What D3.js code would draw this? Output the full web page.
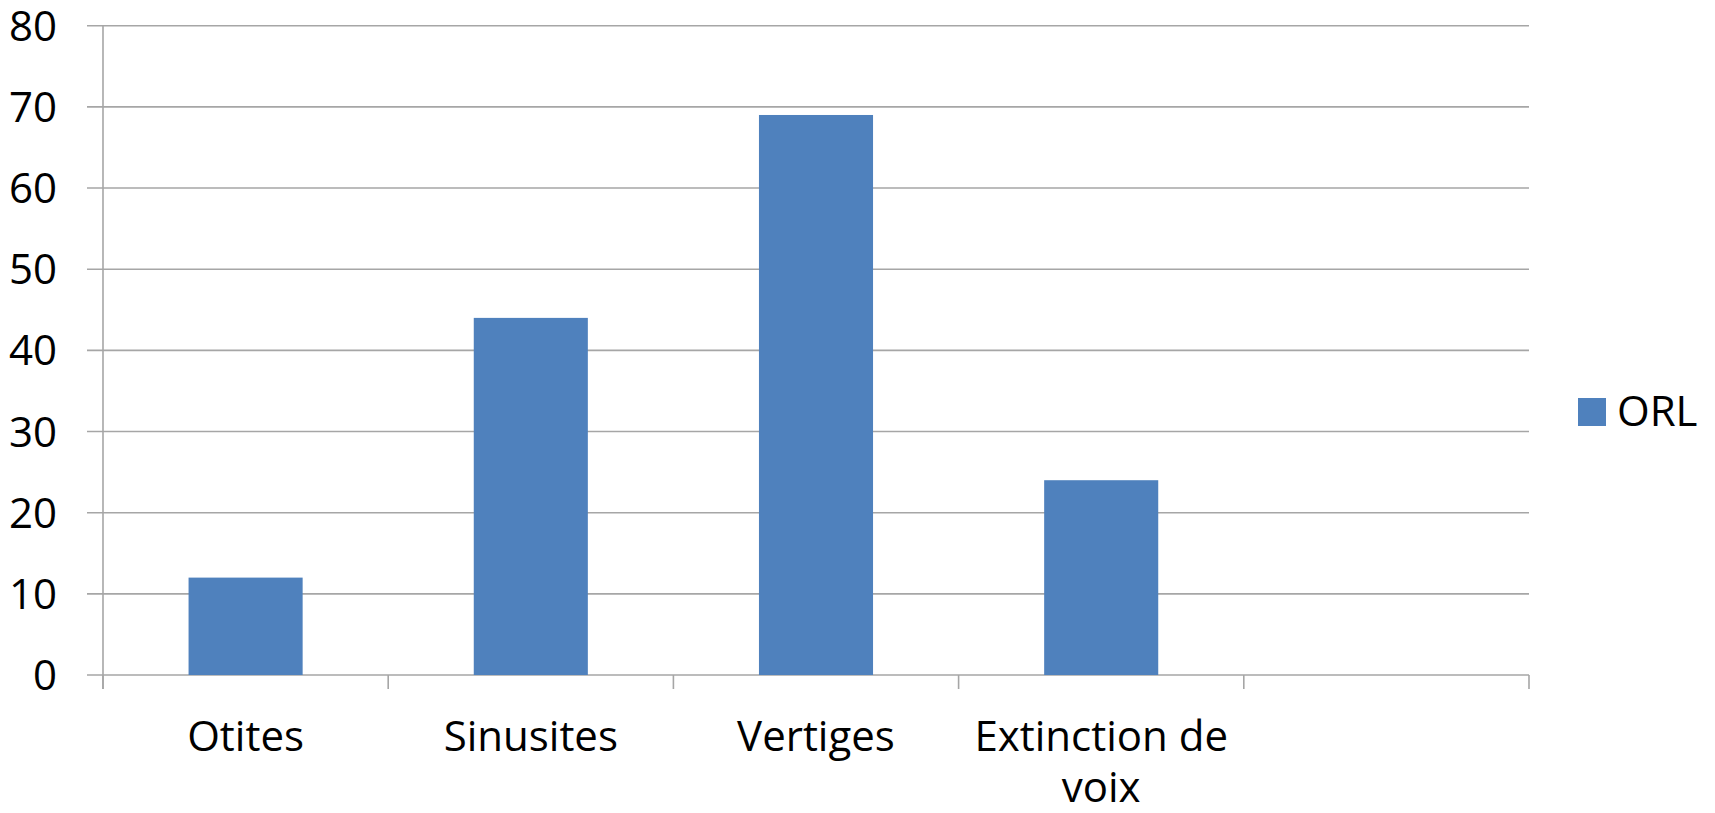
<!DOCTYPE html>
<html>
<head>
<meta charset="utf-8">
<script src="https://cdn.jsdelivr.net/npm/d3@7"></script>
<style>
  html, body { margin: 0; padding: 0; background: #ffffff; }
  svg { display: block; }
  text { font-family: "Open Sans", "Noto Sans", sans-serif; fill: #000; }
</style>
</head>
<body>
<svg id="chart" width="1715" height="813"></svg>
<script>
const categories = ["Otites", "Sinusites", "Vertiges", "Extinction de voix", ""];
const seriesName = "ORL";
const values = [12, 44, 69, 24, null];
const yTicks = [0, 10, 20, 30, 40, 50, 60, 70, 80];

const svg = d3.select("#chart");
const plot = { left: 103, right: 1529, top: 25.7, bottom: 675 };

const x = d3.scaleBand().domain(d3.range(categories.length))
  .range([plot.left, plot.right]).paddingInner(0).paddingOuter(0);
const y = d3.scaleLinear().domain([0, 80]).range([plot.bottom, plot.top]);

const gridColor = "#A6A6A6";
const fs = 42;

// horizontal gridlines
svg.append("g").selectAll("line").data(yTicks).join("line")
  .attr("x1", plot.left - 16).attr("x2", plot.right)
  .attr("y1", d => y(d)).attr("y2", d => y(d))
  .attr("stroke", gridColor).attr("stroke-width", 1.6);

// y axis line
svg.append("line")
  .attr("x1", plot.left).attr("x2", plot.left)
  .attr("y1", plot.top).attr("y2", plot.bottom + 14)
  .attr("stroke", gridColor).attr("stroke-width", 1.6);

// category tick marks
const catTicks = d3.range(categories.length + 1).map(i => i < categories.length ? x(i) : plot.right);
svg.append("g").selectAll("line").data(catTicks).join("line")
  .attr("x1", d => d).attr("x2", d => d)
  .attr("y1", plot.bottom).attr("y2", plot.bottom + 14)
  .attr("stroke", gridColor).attr("stroke-width", 1.6);

// y tick labels
svg.append("g").selectAll("text").data(yTicks).join("text")
  .attr("x", 57).attr("y", d => y(d))
  .attr("dy", "0.36em")
  .attr("text-anchor", "end")
  .attr("font-size", fs)
  .text(d => d);

// bars
const barW = x.bandwidth() * 0.4;
svg.append("g").selectAll("rect").data(values.map((v, i) => ({ v, i })).filter(d => d.v != null)).join("rect")
  .attr("x", d => x(d.i) + (x.bandwidth() - barW) / 2)
  .attr("width", barW)
  .attr("y", d => y(d.v))
  .attr("height", d => y(0) - y(d.v))
  .attr("fill", "#4F81BD");

// category labels with wrapping (one text element per line)
const labelLines = {
  "Extinction de voix": ["Extinction de", "voix"]
};
const catG = svg.append("g");
categories.forEach((c, i) => {
  if (!c) return;
  const lines = labelLines[c] || [c];
  lines.forEach((ln, k) => {
    catG.append("text")
      .attr("x", x(i) + x.bandwidth() / 2)
      .attr("y", 751 + k * 51)
      .attr("text-anchor", "middle")
      .attr("font-size", fs)
      .text(ln);
  });
});

// legend
const lg = svg.append("g");
lg.append("rect").attr("x", 1578).attr("y", 398).attr("width", 28).attr("height", 28).attr("fill", "#4F81BD");
lg.append("text").attr("x", 1617).attr("y", 426).attr("font-size", fs).text(seriesName);
</script>
</body>
</html>
